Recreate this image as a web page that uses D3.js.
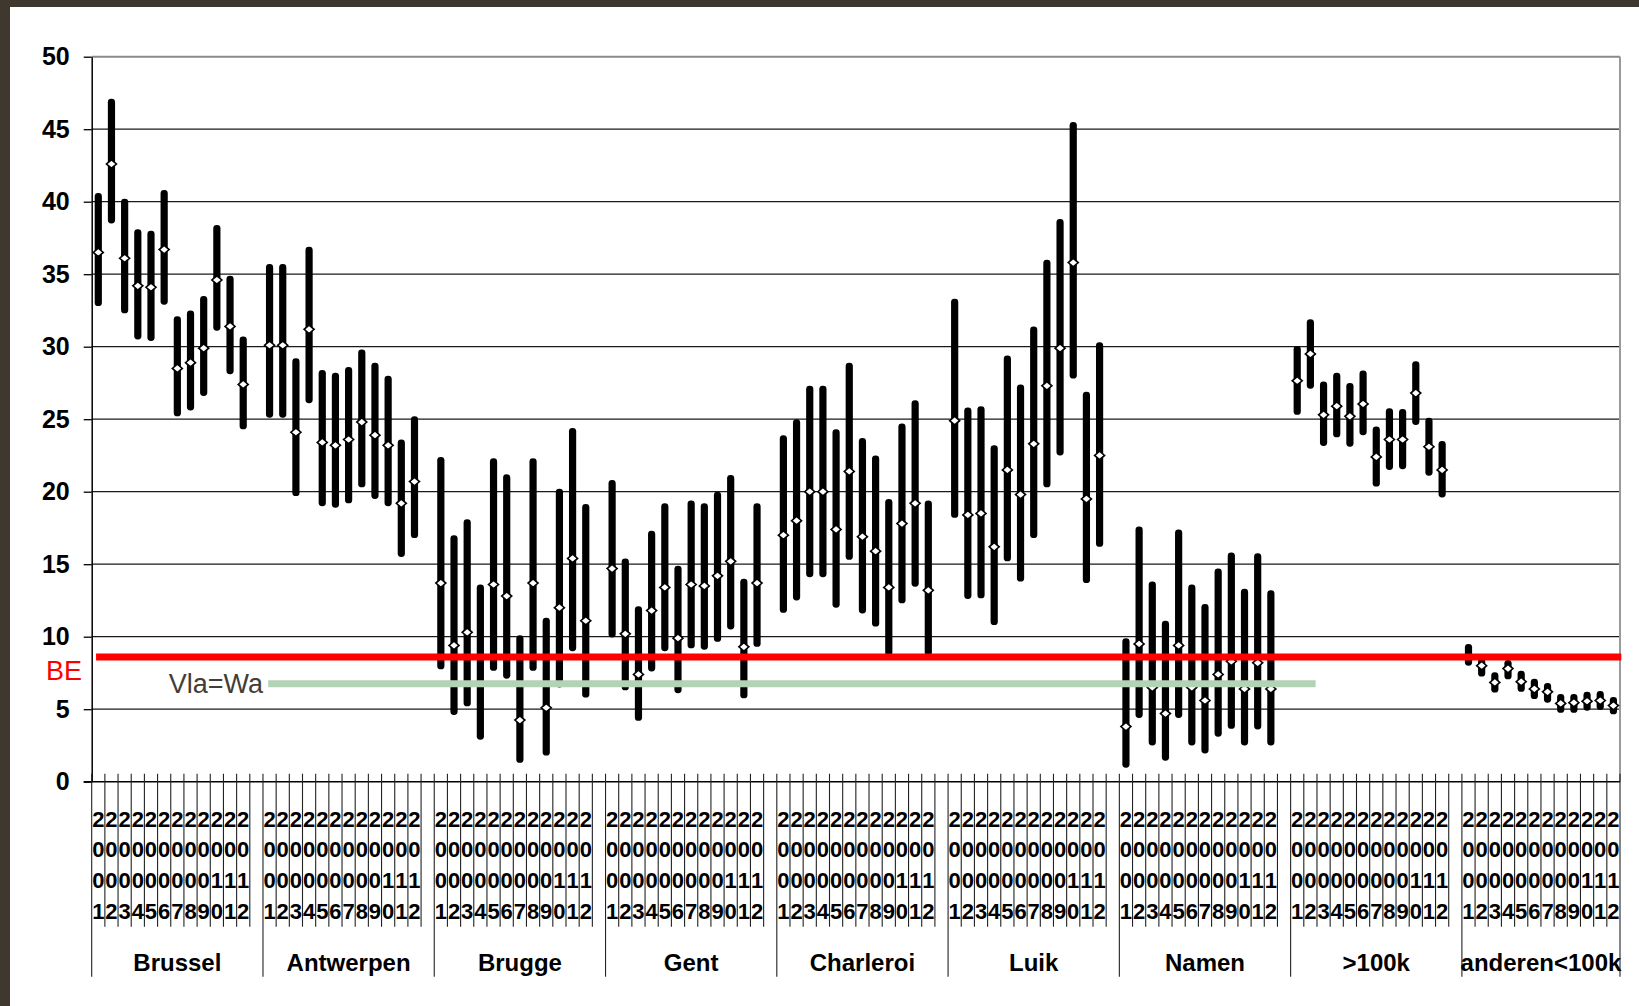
<!DOCTYPE html>
<html>
<head>
<meta charset="utf-8">
<script src="https://cdn.jsdelivr.net/npm/d3@7"></script>
<style>
  body { margin: 0; background: #fff; }
  svg { display: block; font-family: "Liberation Sans", Arial, sans-serif; }
</style>
</head>
<body>
<svg id="chart" width="1639" height="1006"></svg>
<script>
// categories
var groups = ["Brussel", "Antwerpen", "Brugge", "Gent", "Charleroi", "Luik", "Namen", ">100k", "anderen<100k"];
var years = ["2001", "2002", "2003", "2004", "2005", "2006", "2007", "2008", "2009", "2010", "2011", "2012"];

// high / low / mean per group, one value per year
var highs = [
  [40.6, 47.1, 40.2, 38.1, 38.0, 40.8, 32.1, 32.5, 33.5, 38.4, 34.9, 30.7],
  [35.7, 35.7, 29.2, 36.9, 28.4, 28.2, 28.6, 29.8, 28.9, 28.0, 23.6, 25.2],
  [22.4, 17.0, 18.1, 13.6, 22.3, 21.2, 10.1, 22.3, 11.3, 20.2, 24.4, 19.15],
  [20.8, 15.4, 12.1, 17.3, 19.2, 14.9, 19.4, 19.2, 20.0, 21.15, 14.0, 19.2],
  [23.9, 25.0, 27.3, 27.3, 24.3, 28.9, 23.7, 22.5, 19.5, 24.7, 26.3, 19.4],
  [33.3, 25.8, 25.9, 23.2, 29.4, 27.4, 31.4, 36.0, 38.8, 45.5, 26.9, 30.3],
  [9.9, 17.6, 13.8, 11.1, 17.4, 13.6, 12.25, 14.7, 15.8, 13.3, 15.75, 13.2],
  [30.05, 31.9, 27.6, 28.2, 27.5, 28.35, 24.5, 25.75, 25.7, 29.0, 25.1, 23.5],
  [9.5, 8.5, 7.55, 8.4, 7.65, 7.1, 6.8, 6.05, 6.05, 6.2, 6.25, 5.85]
];
var lows = [
  [32.8, 38.5, 32.3, 30.5, 30.4, 32.9, 25.2, 25.6, 26.6, 31.1, 28.1, 24.3],
  [25.1, 25.1, 19.7, 26.1, 19.0, 18.9, 19.2, 20.3, 19.5, 19.0, 15.5, 16.8],
  [7.75, 4.6, 5.2, 2.9, 7.65, 7.1, 1.3, 7.65, 1.8, 6.5, 9.0, 5.8],
  [9.95, 6.3, 4.2, 7.6, 9.0, 6.1, 9.2, 9.1, 9.65, 10.5, 5.75, 9.3],
  [11.65, 12.5, 14.1, 14.1, 12.0, 15.3, 11.6, 10.7, 8.7, 12.3, 13.45, 8.7],
  [18.2, 12.6, 12.65, 10.8, 15.2, 13.8, 16.8, 20.3, 22.5, 27.8, 13.7, 16.2],
  [0.97, 4.4, 2.5, 1.45, 4.4, 2.5, 1.95, 3.1, 3.65, 2.5, 3.6, 2.5],
  [25.3, 27.1, 23.15, 23.75, 23.1, 23.9, 20.35, 21.5, 21.55, 24.6, 21.1, 19.6],
  [8.0, 7.25, 6.15, 7.06, 6.2, 5.7, 5.45, 4.75, 4.75, 4.9, 4.95, 4.65]
];
var means = [
  [36.5, 42.6, 36.1, 34.2, 34.1, 36.7, 28.5, 28.9, 29.9, 34.6, 31.4, 27.4],
  [30.1, 30.1, 24.1, 31.2, 23.4, 23.2, 23.6, 24.8, 23.9, 23.2, 19.2, 20.7],
  [13.7, 9.4, 10.3, 8.6, 13.6, 12.8, 4.25, 13.7, 5.1, 12.0, 15.4, 11.1],
  [14.7, 10.2, 7.4, 11.8, 13.4, 9.9, 13.6, 13.5, 14.2, 15.2, 9.3, 13.7],
  [17.0, 18.0, 20.0, 20.0, 17.4, 21.4, 16.9, 15.9, 13.4, 17.8, 19.2, 13.2],
  [24.9, 18.4, 18.5, 16.2, 21.5, 19.8, 23.3, 27.3, 29.9, 35.8, 19.5, 22.5],
  [3.8, 9.5, 6.5, 4.7, 9.4, 6.5, 5.6, 7.4, 8.3, 6.4, 8.2, 6.4],
  [27.65, 29.5, 25.3, 25.9, 25.2, 26.05, 22.4, 23.6, 23.6, 26.8, 23.1, 21.5],
  [8.6, 8.0, 6.85, 7.8, 6.9, 6.4, 6.2, 5.4, 5.45, 5.55, 5.6, 5.25]
];

var yTicks = [0, 5, 10, 15, 20, 25, 30, 35, 40, 45, 50];

// reference lines (value, extent in category slots)
var beValue = 8.6, beSpan = [0.33, 116.1];
var vlaWaValue = 6.75, vlaWaSpan = [13.4, 92.9];

var svg = d3.select("#chart"),
    margin = {top: 56.7, right: 19, bottom: 224.3, left: 91.7},
    width = +svg.attr("width") - margin.left - margin.right,
    height = +svg.attr("height") - margin.top - margin.bottom;

// dark frame on top and left
svg.append("rect").attr("x", 0).attr("y", 0).attr("width", 1639).attr("height", 7).attr("fill", "#3e382f");
svg.append("rect").attr("x", 0).attr("y", 0).attr("width", 10).attr("height", 1006).attr("fill", "#3e382f");

var g = svg.append("g").attr("transform", "translate(" + margin.left + "," + margin.top + ")");

// slots: 12 years per group + an empty slot between groups
var slots = [];
groups.forEach(function(grp, gi) {
  years.forEach(function(yr, yi) {
    slots.push({key: grp + "|" + yr, group: gi, year: yr, high: highs[gi][yi], low: lows[gi][yi], mean: means[gi][yi]});
  });
  if (gi < groups.length - 1) slots.push({key: grp + "|", group: gi, year: null});
});
var data = slots.filter(function(d) { return d.year; });

var x = d3.scaleBand().domain(slots.map(function(d) { return d.key; })).range([0, width]).padding(0);
var xs = d3.scaleLinear().domain([0, slots.length]).range([0, width]);
var y = d3.scaleLinear().domain([0, 50]).range([height, 0]);
var bw = x.bandwidth();

// gridlines
g.selectAll(".grid").data(yTicks.filter(function(v) { return v > 0 && v < 50; }))
  .enter().append("line")
  .attr("x1", 0).attr("x2", width)
  .attr("y1", function(d) { return y(d); }).attr("y2", function(d) { return y(d); })
  .attr("stroke", "#1a1a1a").attr("stroke-width", 1.2);

// plot border top / right
g.append("line").attr("x1", 0).attr("x2", width).attr("y1", 0).attr("y2", 0)
  .attr("stroke", "#8a8a8a").attr("stroke-width", 2);
g.append("line").attr("x1", width).attr("x2", width).attr("y1", 0).attr("y2", height)
  .attr("stroke", "#9a9a9a").attr("stroke-width", 2);

// y axis
var yAxis = g.append("g")
  .call(d3.axisLeft(y).tickValues(yTicks).tickSize(8).tickSizeOuter(0).tickPadding(14));
yAxis.select(".domain").attr("stroke", "#000").attr("stroke-width", 1.5);
yAxis.selectAll(".tick line").attr("stroke", "#000").attr("stroke-width", 1.3);
yAxis.selectAll(".tick text")
  .attr("font-family", "'Liberation Sans', Arial, sans-serif")
  .attr("font-size", "25px").attr("font-weight", "bold").attr("fill", "#000");

// x axis: baseline, slot boundary lines, year labels, group labels
g.append("line").attr("x1", -8).attr("x2", width).attr("y1", height).attr("y2", height)
  .attr("stroke", "#000").attr("stroke-width", 1.5);

var bounds = d3.range(slots.length + 1);
g.selectAll(".slotline").data(bounds).enter().append("line")
  .attr("x1", function(i) { return xs(i); }).attr("x2", function(i) { return xs(i); })
  .attr("y1", height - 8)
  .attr("y2", function(i) {
    var isGroup = i === slots.length || i % 13 === 0;
    return isGroup ? height + 195 : height + 145;
  })
  .attr("stroke", "#222").attr("stroke-width", 1.1);

var yearLabels = g.selectAll(".yearlab").data(data).enter().append("g")
  .attr("transform", function(d) { return "translate(" + (x(d.key) + bw / 2) + "," + height + ")"; });
[0, 1, 2, 3].forEach(function(ci) {
  yearLabels.append("text")
    .attr("y", 45 + ci * 30.8)
    .attr("text-anchor", "middle")
    .attr("font-size", "22px").attr("font-weight", "bold").attr("fill", "#000")
    .text(function(d) { return d.year.charAt(ci); });
});

g.selectAll(".grouplab").data(groups).enter().append("text")
  .attr("x", function(d, i) {
    var a = i * 13, b = i < groups.length - 1 ? a + 13 : a + 12;
    return (xs(a) + xs(b)) / 2;
  })
  .attr("y", height + 189.5)
  .attr("text-anchor", "middle")
  .attr("font-size", "24px").attr("font-weight", "bold").attr("fill", "#000")
  .text(function(d) { return d; });

// high-low bars
g.selectAll(".bar").data(data).enter().append("rect")
  .attr("x", function(d) { return x(d.key) + bw / 2 - 3.6; })
  .attr("width", 7.2)
  .attr("y", function(d) { return y(d.high); })
  .attr("height", function(d) { return y(d.low) - y(d.high); })
  .attr("rx", 3.4).attr("fill", "#000");

// mean markers
g.selectAll(".mean").data(data).enter().append("path")
  .attr("transform", function(d) { return "translate(" + (x(d.key) + bw / 2) + "," + y(d.mean) + ")"; })
  .attr("d", "M0,-4.2L5,0L0,4.2L-5,0Z")
  .attr("fill", "#fff").attr("stroke", "#000").attr("stroke-width", 1.6);

// reference lines
g.append("line")
  .attr("x1", xs(beSpan[0])).attr("x2", xs(beSpan[1]))
  .attr("y1", y(beValue)).attr("y2", y(beValue))
  .attr("stroke", "#ff0000").attr("stroke-width", 7);
g.append("line")
  .attr("x1", xs(vlaWaSpan[0])).attr("x2", xs(vlaWaSpan[1]))
  .attr("y1", y(vlaWaValue)).attr("y2", y(vlaWaValue))
  .attr("stroke", "#b3d3b7").attr("stroke-width", 7);

svg.append("text")
  .attr("x", 46).attr("y", margin.top + y(beValue) + 22.5)
  .attr("font-size", "27px").attr("fill", "#ff0000")
  .text("BE");
svg.append("text")
  .attr("x", 263).attr("y", margin.top + y(vlaWaValue) + 9)
  .attr("text-anchor", "end")
  .attr("font-size", "27px").attr("fill", "#433d36")
  .text("Vla=Wa");
</script>
</body>
</html>
